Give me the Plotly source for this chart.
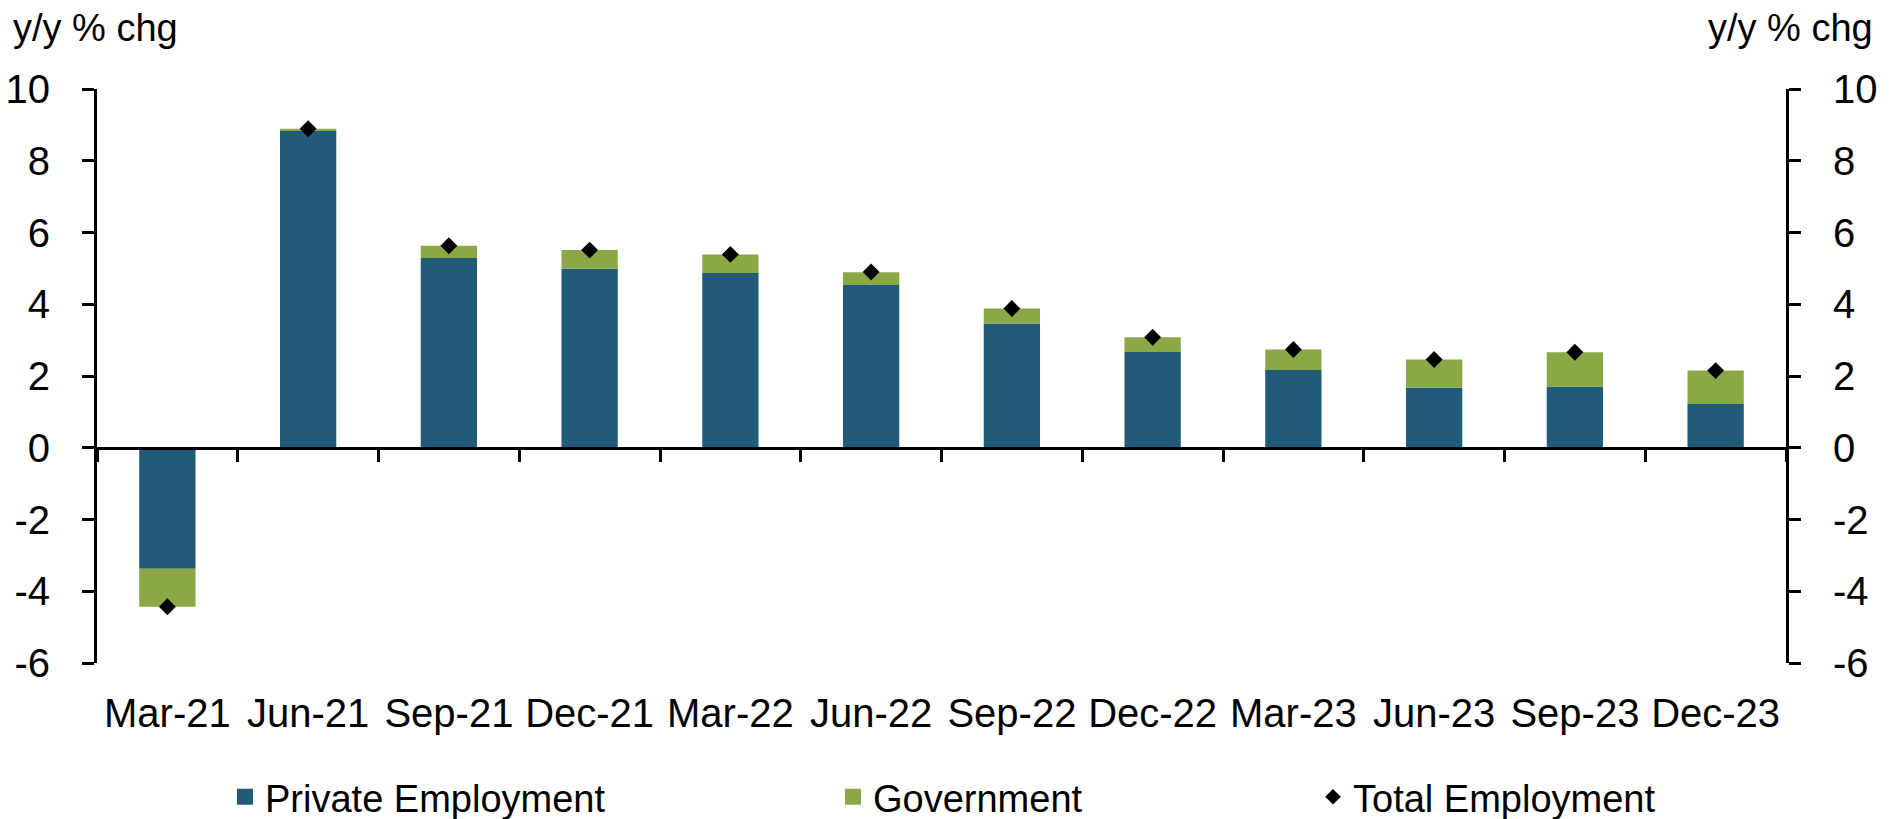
import plotly.graph_objects as go

categories = ["Mar-21", "Jun-21", "Sep-21", "Dec-21", "Mar-22", "Jun-22",
              "Sep-22", "Dec-22", "Mar-23", "Jun-23", "Sep-23", "Dec-23"]
private_emp = [-3.37, 8.84, 5.29, 4.99, 4.87, 4.54, 3.46, 2.67, 2.17, 1.67, 1.71, 1.22]
government = [-1.06, 0.05, 0.34, 0.52, 0.52, 0.35, 0.42, 0.41, 0.57, 0.79, 0.95, 0.93]
total_emp = [-4.43, 8.89, 5.63, 5.51, 5.39, 4.90, 3.88, 3.08, 2.74, 2.46, 2.66, 2.15]
y_ticks = [-6, -4, -2, 0, 2, 4, 6, 8, 10]
y_ticklabels = ["-6", "-4", "-2", "0", "2", "4", "6", "8", "10"]

C_PRIV = "#225b7a"
C_GOV = "#8aa946"
FONT = "Liberation Sans"
FS_TICK = 40
FS_LEG = 38

fig = go.Figure()
fig.add_trace(go.Bar(x=categories, y=private_emp, name="Private Employment",
                     marker=dict(color=C_PRIV, line=dict(width=0)),
                     xaxis="x", yaxis="y", showlegend=False))
fig.add_trace(go.Bar(x=categories, y=government, name="Government",
                     marker=dict(color=C_GOV, line=dict(width=0)),
                     xaxis="x", yaxis="y", showlegend=False))
fig.add_trace(go.Scatter(x=categories, y=total_emp, name="Total Employment",
                         mode="markers",
                         marker=dict(symbol="diamond", size=13, color="black"),
                         xaxis="x2", yaxis="y2", showlegend=False))

# legend proxies
fig.add_trace(go.Scatter(x=[None], y=[None], mode="markers", name="Private Employment",
                         marker=dict(symbol="square", size=21, color=C_PRIV),
                         legend="legend", xaxis="x2", yaxis="y2"))
fig.add_trace(go.Scatter(x=[None], y=[None], mode="markers", name="Government",
                         marker=dict(symbol="square", size=21, color=C_GOV),
                         legend="legend2", xaxis="x2", yaxis="y2"))
fig.add_trace(go.Scatter(x=[None], y=[None], mode="markers", name="Total Employment",
                         marker=dict(symbol="diamond", size=12, color="black"),
                         legend="legend3", xaxis="x2", yaxis="y2"))

W, H = 1896, 819
# plot area in screen px
AX_L, AX_R, AX_T, AX_B = 97, 1786, 89, 663
L, T, R, B = AX_L, AX_T, W - AX_R, H - AX_B
pw = AX_R - AX_L
ph = AX_B - AX_T

def px2x(p):
    return (p - AX_L) / pw

def py2y(p):
    return (AX_B - p) / ph

axis_common = dict(range=[-0.5, 11.5], type="category", categoryorder="array",
                   categoryarray=categories, showgrid=False, zeroline=False)
yrange = [-6, 10]
yax_common = dict(range=yrange, tickvals=y_ticks, ticktext=y_ticklabels,
                  showgrid=False, zeroline=False, showline=True,
                  linecolor="black", linewidth=3, ticks="outside", ticklen=12,
                  tickwidth=3, tickcolor="black", ticklabelstandoff=24,
                  tickfont=dict(size=FS_TICK))
leg_common = dict(orientation="h", xanchor="left", yanchor="middle",
                  font=dict(size=FS_LEG), bgcolor="rgba(0,0,0,0)",
                  itemsizing="trace")
LEG_Y = py2y(797)
fig.update_layout(
    width=W, height=H,
    margin=dict(l=L, r=R, t=T, b=B, pad=0, autoexpand=False),
    paper_bgcolor="white", plot_bgcolor="white",
    barmode="relative", bargap=0.6,
    hovermode=False,
    font=dict(family=FONT, size=FS_TICK, color="black"),
    xaxis=dict(**axis_common, anchor="free", position=6 / 16, showline=True,
               linecolor="black", linewidth=3, ticks="outside", ticklen=12,
               tickwidth=3, tickcolor="black", tickson="boundaries",
               showticklabels=False),
    xaxis2=dict(**axis_common, overlaying="x", anchor="y2", side="bottom",
                showline=False, ticks="", showticklabels=True,
                ticklabelstandoff=23, tickfont=dict(size=FS_TICK)),
    yaxis=dict(**yax_common),
    yaxis2=dict(**yax_common, overlaying="y", side="right", anchor="x2"),
    legend=dict(**leg_common, x=px2x(225), y=LEG_Y),
    legend2=dict(**leg_common, x=px2x(833), y=LEG_Y),
    legend3=dict(**leg_common, x=px2x(1313), y=LEG_Y),
    annotations=[
        dict(text="y/y % chg", xref="paper", yref="paper", x=px2x(11), y=py2y(28),
             xanchor="left", yanchor="middle", showarrow=False,
             font=dict(size=38)),
        dict(text="y/y % chg", xref="paper", yref="paper", x=px2x(1875), y=py2y(28),
             xanchor="right", yanchor="middle", showarrow=False,
             font=dict(size=38)),
    ],
)

fig.write_html("out.html",
               config={"displayModeBar": False},
               post_script="document.body.style.margin='0px';")
